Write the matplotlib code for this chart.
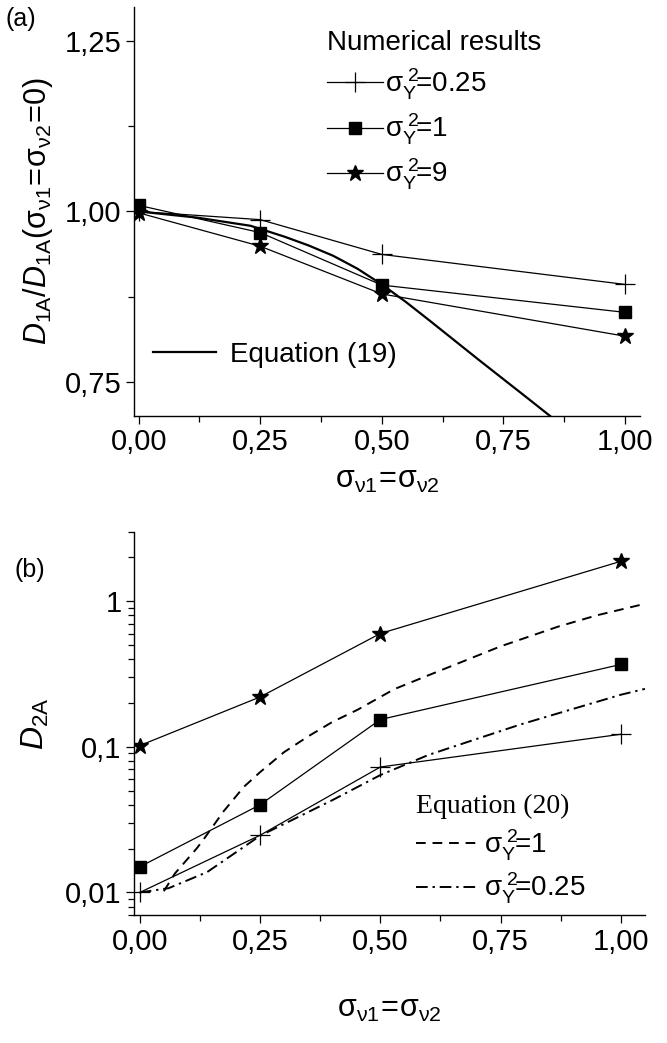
import matplotlib
matplotlib.use("Agg")
import matplotlib.pyplot as plt
from matplotlib.ticker import FixedLocator, FuncFormatter, LogLocator, NullFormatter

plt.rcParams['font.family'] = ['Liberation Sans Narrow', 'Liberation Sans', 'DejaVu Sans']
plt.rcParams['mathtext.fontset'] = 'custom'
plt.rcParams['mathtext.rm'] = 'Liberation Sans'
plt.rcParams['mathtext.it'] = 'Liberation Sans:italic'
plt.rcParams['mathtext.bf'] = 'Liberation Sans:bold'

# donnees numeriques
sigma_v = [0.0, 0.25, 0.5, 1.0]

d1a_025 = [1.000, 0.988, 0.937, 0.893]
d1a_1 = [1.009, 0.969, 0.892, 0.852]
d1a_9 = [0.998, 0.949, 0.879, 0.817]

# equation (19)
eq19_x = [0.0, 0.12, 0.23, 0.30, 0.35, 0.40, 0.45, 0.50, 0.55, 0.60, 0.70, 0.80, 0.846]
eq19_y = [1.000, 0.991, 0.979, 0.963, 0.950, 0.935, 0.916, 0.893, 0.867, 0.839, 0.782, 0.726, 0.700]

d2a_025 = [0.0100, 0.0247, 0.0727, 0.122]
d2a_1 = [0.0150, 0.0400, 0.154, 0.368]
d2a_9 = [0.102, 0.220, 0.600, 1.88]

# equation (20)
eq20_x1 = [0.05, 0.073, 0.118, 0.13, 0.174, 0.216, 0.25, 0.30, 0.35, 0.40, 0.453, 0.529, 0.60, 0.75, 0.87, 0.95, 1.05]
eq20_y1 = [0.0102, 0.0135, 0.020, 0.0225, 0.036, 0.053, 0.067, 0.092, 0.118, 0.148, 0.18, 0.249, 0.31, 0.49, 0.67, 0.80, 0.96]
eq20_x025 = [0.0, 0.06, 0.14, 0.25, 0.40, 0.50, 0.60, 0.79, 1.00, 1.05]
eq20_y025 = [0.0100, 0.0107, 0.0138, 0.0245, 0.043, 0.064, 0.088, 0.142, 0.228, 0.25]

labels_num = [r'$\mathrm{\sigma}_\mathrm{Y}^{\ 2}\!$=0.25', r'$\mathrm{\sigma}_\mathrm{Y}^{\ 2}\!$=1', r'$\mathrm{\sigma}_\mathrm{Y}^{\ 2}\!$=9']
labels_eq20 = [r'$\mathrm{\sigma}_\mathrm{Y}^{\ 2}\!$=1', r'$\mathrm{\sigma}_\mathrm{Y}^{\ 2}\!$=0.25']

fig = plt.figure(figsize=(6.67, 10.43), dpi=100)
ax1 = fig.add_axes([0.2006, 0.6012, 0.7589, 0.3921])
ax2 = fig.add_axes([0.2009, 0.1227, 0.7661, 0.3675])

lw = 0.9
ms_kw = dict(color='black', lw=lw)


def style_axes(ax):
    for s in ['top', 'right']:
        ax.spines[s].set_visible(False)
    for s in ['left', 'bottom']:
        ax.spines[s].set_linewidth(1.0)
    ax.tick_params(which='major', direction='out', length=6, width=0.9, labelsize=21, pad=3)
    ax.tick_params(which='minor', direction='out', length=4, width=0.9)
    ax.xaxis.set_major_locator(FixedLocator([0, 0.25, 0.5, 0.75, 1.0]))
    ax.xaxis.set_minor_locator(FixedLocator([0.125, 0.375, 0.625, 0.875]))
    ax.xaxis.set_major_formatter(FuncFormatter(lambda v, p: ('%.2f' % v).replace('.', ',')))


comma = FuncFormatter(lambda v, p: ('%.2f' % v).replace('.', ','))

# ---- (a)
l1, = ax1.plot(sigma_v, d1a_025, marker='+', ms=15, mew=0.9, **ms_kw)
l2, = ax1.plot(sigma_v, d1a_1, marker='s', ms=9, **ms_kw)
l3, = ax1.plot(sigma_v, d1a_9, marker='*', ms=12, **ms_kw)
l4, = ax1.plot(eq19_x, eq19_y, color='black', lw=1.6)

style_axes(ax1)
ax1.set_xlim(-0.01, 1.031)
ax1.set_ylim(0.70, 1.30)
ax1.yaxis.set_major_locator(FixedLocator([0.75, 1.0, 1.25]))
ax1.yaxis.set_minor_locator(FixedLocator([0.875, 1.125]))
ax1.yaxis.set_major_formatter(comma)
ax1.set_xlabel(r'$\mathrm{\sigma}_{\mathrm{\nu 1}}\!=\!\mathrm{\sigma}_{\mathrm{\nu 2}}$', fontsize=22, labelpad=6)
ax1.set_ylabel(r'$\mathit{D}_{\mathrm{1A}}/\mathit{D}_{\mathrm{1A}}(\mathrm{\sigma}_{\mathrm{\nu 1}}\!=\!\mathrm{\sigma}_{\mathrm{\nu 2}}\!=\!0)$',
               fontsize=22, labelpad=7)

leg1 = ax1.legend([l1, l2, l3], labels_num, title='Numerical results', loc='upper left',
                  bbox_to_anchor=(0.36, 0.97), frameon=False, fontsize=20, title_fontsize=20,
                  numpoints=1, handlelength=2.0, handletextpad=0.1, labelspacing=0.36,
                  borderaxespad=0, alignment='left')
ax1.add_artist(leg1)
ax1.legend([l4], ['Equation (19)'], loc='center left', bbox_to_anchor=(0.015, 0.15),
           frameon=False, fontsize=20, handlelength=2.3, handletextpad=0.5, borderaxespad=0)
fig.text(0.008, 0.982, '(a)', fontsize=18, va='center', ha='left')

# ---- (b)
ax2.set_yscale('log')
ax2.plot(sigma_v, d2a_9, marker='*', ms=12, **ms_kw)
ax2.plot(sigma_v, d2a_1, marker='s', ms=9, **ms_kw)
ax2.plot(sigma_v, d2a_025, marker='+', ms=15, mew=0.9, **ms_kw)
e1, = ax2.plot(eq20_x1, eq20_y1, color='black', lw=1.4, dashes=(5, 3.5))
e2, = ax2.plot(eq20_x025, eq20_y025, color='black', lw=1.4, dashes=(6, 2.5, 1.2, 2.5))

style_axes(ax2)
ax2.set_xlim(-0.012, 1.05)
ax2.set_ylim(0.007, 3.0)
ax2.yaxis.set_major_locator(FixedLocator([0.01, 0.1, 1]))
ax2.yaxis.set_major_formatter(FuncFormatter(lambda v, p: {0.01: '0,01', 0.1: '0,1', 1: '1'}.get(round(v, 3), '')))
ax2.yaxis.set_minor_locator(LogLocator(base=10, subs=range(2, 10)))
ax2.yaxis.set_minor_formatter(NullFormatter())
ax2.set_xlabel(r'$\mathrm{\sigma}_{\mathrm{\nu 1}}\!=\!\mathrm{\sigma}_{\mathrm{\nu 2}}$', fontsize=22, labelpad=28)
ax2.set_ylabel(r'$\mathit{D}_{\mathrm{2A}}$', fontsize=23, labelpad=10)

ax2.legend([e1, e2], labels_eq20, title='Equation (20)', loc='upper left',
           bbox_to_anchor=(0.53, 0.345), frameon=False, fontsize=20, numpoints=1,
           title_fontproperties={'family': 'Liberation Serif', 'size': 20},
           handlelength=2.3, handletextpad=0.15, labelspacing=0.3, borderaxespad=0,
           alignment='left')
fig.text(0.022, 0.4535, '(b)', fontsize=18, va='center', ha='left')

fig.savefig('out.png', dpi=100)
